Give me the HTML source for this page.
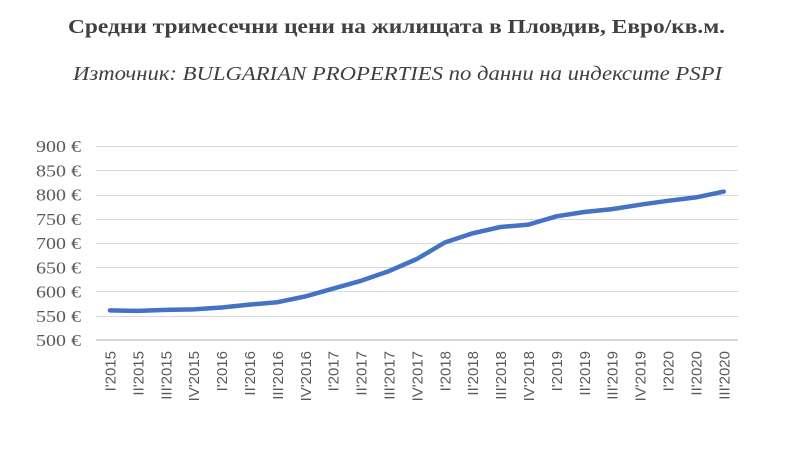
<!DOCTYPE html>
<html><head><meta charset="utf-8"><style>
body{margin:0;background:#fff;width:800px;height:452px;overflow:hidden}
</style></head><body>
<svg width="800" height="452" xmlns="http://www.w3.org/2000/svg">
<text x="68" y="33" textLength="657" lengthAdjust="spacingAndGlyphs" font-family="Liberation Serif, serif" font-weight="bold" font-size="20" fill="#404040">Средни тримесечни цени на жилищата в Пловдив, Евро/кв.м.</text>
<text x="73" y="80" textLength="649" lengthAdjust="spacingAndGlyphs" font-family="Liberation Serif, serif" font-style="italic" font-size="20" fill="#404040">Източник: BULGARIAN PROPERTIES по данни на индексите PSPI</text>
<g stroke="#d9d9d9" stroke-width="1">
<line x1="96" x2="738" y1="146.5" y2="146.5"/><line x1="96" x2="738" y1="170.5" y2="170.5"/>
<line x1="96" x2="738" y1="195.5" y2="195.5"/><line x1="96" x2="738" y1="219.5" y2="219.5"/>
<line x1="96" x2="738" y1="243.5" y2="243.5"/><line x1="96" x2="738" y1="267.5" y2="267.5"/>
<line x1="96" x2="738" y1="291.5" y2="291.5"/><line x1="96" x2="738" y1="316.5" y2="316.5"/>
</g>
<line x1="96" x2="738" y1="340" y2="340" stroke="#c8c8c8" stroke-width="1.5"/>
<g font-family="Liberation Serif, serif" font-size="17" fill="#595959" id="yl"></g>
<g font-family="Liberation Sans, sans-serif" font-size="15" fill="#595959" text-anchor="end" id="xl"></g>
<polyline id="ln" fill="none" stroke="#4472c4" stroke-width="4.5" stroke-linejoin="round" stroke-linecap="round"/>
<script>
var NS='http://www.w3.org/2000/svg';
var yl=document.getElementById('yl');
for(var k=0;k<9;k++){var t=document.createElementNS(NS,'text');var val=900-k*50;t.setAttribute('x','36');t.setAttribute('y',(152+k*24.25).toFixed(1));t.setAttribute('textLength','45');t.setAttribute('lengthAdjust','spacingAndGlyphs');t.textContent=val+' €';yl.appendChild(t);}
var labs=["I'2015","II'2015","III'2015","IV'2015","I'2016","II'2016","III'2016","IV'2016","I'2017","II'2017","III'2017","IV'2017","I'2018","II'2018","III'2018","IV'2018","I'2019","II'2019","III'2019","IV'2019","I'2020","II'2020","III'2020"];
var v=[561,560,562,563,567,573,578,590,606,622,642,667,701,720,733,738,755,764,770,779,787,794,806];
var g=document.getElementById('xl'),pts=[];
for(var i=0;i<23;i++){var x=110+i*27.9;var y=146+(900-v[i])/50*24.25;pts.push(x.toFixed(1)+','+y.toFixed(1));
var t=document.createElementNS(NS,'text');t.setAttribute('transform','translate('+(x+5.5)+',351) rotate(-90)');t.textContent=labs[i];g.appendChild(t);}
document.getElementById('ln').setAttribute('points',pts.join(' '));
</script>
</svg>
</body></html>
